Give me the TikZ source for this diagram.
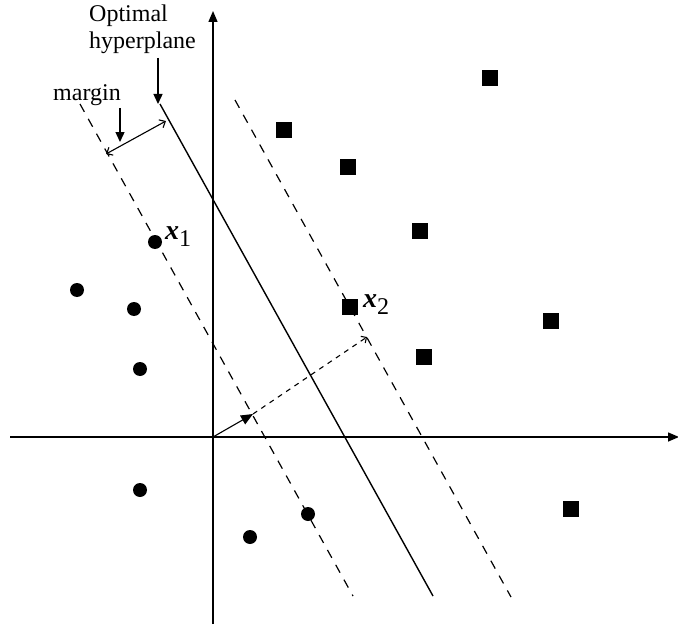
\documentclass[tikz,border=0pt]{standalone}
\usepackage{fontspec}
\setmainfont{Liberation Serif}
\usetikzlibrary{arrows.meta}
\tikzset{
  dot/.style={circle,fill=black,inner sep=0pt,minimum size=14pt},
  sq/.style={rectangle,fill=black,inner sep=0pt,minimum size=16pt},
  axis/.style={line width=1.5pt,-{Triangle[length=11pt,width=9pt]}},
  margline/.style={line width=1.2pt,dash pattern=on 9pt off 8pt},
  hyper/.style={line width=1.4pt},
  lbl/.style={font=\fontsize{24}{27}\selectfont,inner sep=0pt},
  lblarrow/.style={line width=1.4pt,-{Triangle[length=10pt,width=9pt]}}
}
\begin{document}
\begin{tikzpicture}[x=1pt,y=-1pt]
\useasboundingbox (0,0) rectangle (678,626);
% axes
\coordinate (xl) at (10,437);
\coordinate (xr) at (679,437);
\coordinate (yb) at (213,624);
\coordinate (yt) at (213,11);
\coordinate (O) at (213,437);
\draw[axis] (xl) -- (xr);
\draw[axis] (yb) -- (yt);
% hyperplane and margins
\coordinate (h1) at (160,104);
\coordinate (h2) at (433,596);
\coordinate (l1) at (80,104);
\coordinate (l2) at (353,596);
\coordinate (r1) at (235,100);
\coordinate (r2) at (511,597);
\draw[hyper] (h1) -- (h2);
\draw[margline] (l1) -- (l2);
\draw[margline] (r1) -- (r2);
% margin arrow
\coordinate (ma) at (166,121);
\coordinate (mb) at (106,154);
\draw[line width=1.1pt,{Straight Barb[length=5pt,width=9pt]}-{Straight Barb[length=5pt,width=9pt]}] (ma) -- (mb);
% w arrow
\coordinate (wa) at (253,414);
\coordinate (wb) at (367,337);
\draw[line width=1.1pt,-{Triangle[length=12pt,width=10pt]}] (O) -- (wa);
\draw[line width=1.1pt,dash pattern=on 5pt off 5pt,-{Straight Barb[length=4pt,width=8pt]}] (wa) -- (wb);
% labels
\node[lbl,anchor=north west,align=left] (opt) at (89,5) {Optimal\\hyperplane};
\node[lbl,anchor=base west] (marg) at (53,101) {margin};
\coordinate (opta) at (158,58);
\coordinate (optb) at (158,104);
\draw[lblarrow] (opta) -- (optb);
\coordinate (mta) at (120,108);
\coordinate (mtb) at (120,142);
\draw[lblarrow] (mta) -- (mtb);
% dots
\node[dot] (c1) at (77,290) {};
\node[dot] (c2) at (134,309) {};
\node[dot] (c3) at (155,242) {};
\node[dot] (c4) at (140,369) {};
\node[dot] (c5) at (140,490) {};
\node[dot] (c6) at (250,537) {};
\node[dot] (c7) at (308,514) {};
% squares
\node[sq] (s1) at (284,130) {};
\node[sq] (s2) at (348,167) {};
\node[sq] (s3) at (490,78) {};
\node[sq] (s4) at (420,231) {};
\node[sq] (s5) at (350,307) {};
\node[sq] (s6) at (551,321) {};
\node[sq] (s7) at (424,357) {};
\node[sq] (s8) at (571,509) {};
% x labels
\node[anchor=base west,inner sep=0pt,font=\fontsize{28}{28}\selectfont] (x1) at (165,239) {\textbf{\textit{x}}\raisebox{-7pt}{\fontsize{24}{24}\selectfont 1}};
\node[anchor=base west,inner sep=0pt,font=\fontsize{28}{28}\selectfont] (x2) at (363,307) {\textbf{\textit{x}}\raisebox{-7pt}{\fontsize{24}{24}\selectfont 2}};
\end{tikzpicture}
\end{document}
